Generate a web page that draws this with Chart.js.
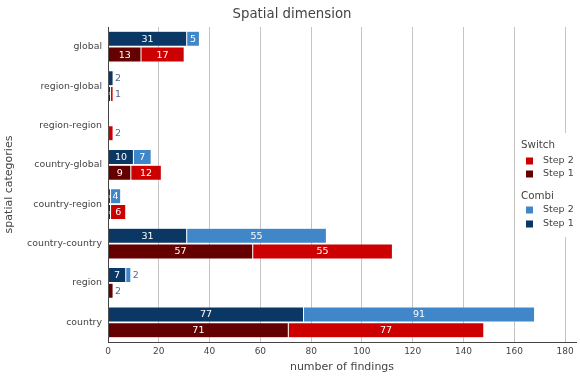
<!DOCTYPE html>
<html>
<head>
<meta charset="utf-8">
<script src="https://cdn.jsdelivr.net/npm/chart.js@4/dist/chart.umd.min.js"></script>
<style>
html,body{margin:0;padding:0;background:#fff;}
#wrap{width:580px;height:378px;position:relative;}
</style>
</head>
<body>
<div id="wrap"><canvas id="c" width="580" height="378"></canvas></div>
<script>
const categories = ['global','region-global','region-region','country-global','country-region','country-country','region','country'];
const combiStep1 = [31, 2, 0, 10, 1, 31, 7, 77];
const combiStep2 = [5, 0, 0, 7, 4, 55, 2, 91];
const switchStep1 = [13, 1, 0, 9, 1, 57, 2, 71];
const switchStep2 = [17, 1, 2, 12, 6, 55, 0, 77];
const xTicks = [0, 20, 40, 60, 80, 100, 120, 140, 160, 180];

const FONT = '"DejaVu Sans", Verdana, sans-serif';
const COLORS = {
  combi1: '#0a3763',
  combi2: '#3f87c9',
  switch1: '#650000',
  switch2: '#cc0000'
};

const labelPlugin = {
  id: 'barLabels',
  afterDatasetsDraw(chart) {
    const ctx = chart.ctx;
    const dsets = chart.data.datasets;
    ctx.save();
    ctx.textBaseline = 'middle';
    dsets.forEach((ds, di) => {
      const meta = chart.getDatasetMeta(di);
      meta.data.forEach((el, i) => {
        const v = ds.data[i];
        if (!v) return;
        let top = true;
        for (let dj = di + 1; dj < dsets.length; dj++) {
          if (dsets[dj].stack === ds.stack && dsets[dj].data[i]) top = false;
        }
        const txt = String(v);
        const left = Math.min(el.x, el.base), right = Math.max(el.x, el.base);
        const w = right - left;
        ctx.font = '9.5px ' + FONT;
        const tw = ctx.measureText(txt).width;
        if (tw + 4 <= w) {
          ctx.fillStyle = '#ffffff';
          ctx.textAlign = 'center';
          ctx.fillText(txt, (left + right) / 2, el.y + 0.5);
        } else if (top) {
          ctx.fillStyle = '#56688a';
          ctx.textAlign = 'left';
          ctx.fillText(txt, right + 2, el.y + 0.5);
        } else {
          ctx.font = '4px ' + FONT;
          ctx.fillStyle = 'rgba(255,255,255,0.8)';
          ctx.textAlign = 'center';
          ctx.fillText(txt, (left + right) / 2, el.y + 0.5);
        }
      });
    });
    ctx.restore();
  }
};

const deco = {
  id: 'deco',
  afterDraw(chart) {
    const ctx = chart.ctx;
    ctx.save();
    ctx.fillStyle = '#444';
    ctx.font = '13.3px ' + FONT;
    ctx.textAlign = 'center';
    ctx.textBaseline = 'middle';
    ctx.fillText('Spatial dimension', 292, 15);
    ctx.fillStyle = '#fff';
    ctx.fillRect(517, 133, 60, 104);
    const groups = [
      {title: 'Switch', y: 145, items: [['Step 2', COLORS.switch2, 161], ['Step 1', COLORS.switch1, 174]]},
      {title: 'Combi', y: 196, items: [['Step 2', COLORS.combi2, 210], ['Step 1', COLORS.combi1, 224]]}
    ];
    groups.forEach(g => {
      ctx.fillStyle = '#444';
      ctx.font = '10.3px ' + FONT;
      ctx.textAlign = 'left';
      ctx.fillText(g.title, 521, g.y);
      g.items.forEach(it => {
        ctx.fillStyle = it[1];
        ctx.fillRect(526, it[2] - 3.5, 7, 7);
        ctx.fillStyle = '#444';
        ctx.font = '9.5px ' + FONT;
        ctx.fillText(it[0], 543, it[2]);
      });
    });
    ctx.restore();
  }
};

function ds(label, data, stack, color) {
  return {
    label, data, stack,
    backgroundColor: color,
    borderColor: 'rgba(255,255,255,0.3)',
    borderWidth: 0.5,
    borderSkipped: false,
    categoryPercentage: 0.8,
    barPercentage: 0.96
  };
}

new Chart(document.getElementById('c'), {
  type: 'bar',
  data: {
    labels: categories,
    datasets: [
      ds('Combi Step 1', combiStep1, 'combi', COLORS.combi1),
      ds('Combi Step 2', combiStep2, 'combi', COLORS.combi2),
      ds('Switch Step 1', switchStep1, 'switch', COLORS.switch1),
      ds('Switch Step 2', switchStep2, 'switch', COLORS.switch2)
    ]
  },
  options: {
    indexAxis: 'y',
    responsive: false,
    animation: false,
    devicePixelRatio: 1,
    layout: {padding: {top: 27, right: 4, bottom: 0, left: 0}},
    plugins: {legend: {display: false}, tooltip: {enabled: false}, title: {display: false}},
    scales: {
      x: {
        type: 'linear',
        stacked: true,
        min: 0,
        max: 184.3,
        afterBuildTicks(s) { s.ticks = xTicks.map(v => ({value: v})); },
        afterFit(s) { s.height = 36; },
        grid: {color: '#c4c4c4', lineWidth: 1, drawTicks: false},
        border: {display: true, color: '#444', width: 1},
        ticks: {color: '#444', font: {family: FONT, size: 9}, padding: 4, maxRotation: 0, autoSkip: false},
        title: {display: true, text: 'number of findings', color: '#444', font: {family: FONT, size: 11}, padding: {top: 0, bottom: 4}}
      },
      y: {
        type: 'category',
        stacked: true,
        afterFit(s) { s.width = 108; },
        grid: {display: false, drawTicks: false},
        border: {display: true, color: '#444', width: 1},
        ticks: {color: '#444', font: {family: FONT, size: 9.4}, padding: 6, autoSkip: false},
        title: {display: true, text: 'spatial categories', color: '#444', font: {family: FONT, size: 11}, padding: {top: 3, bottom: 0}}
      }
    }
  },
  plugins: [labelPlugin, deco]
});
</script>
</body>
</html>
